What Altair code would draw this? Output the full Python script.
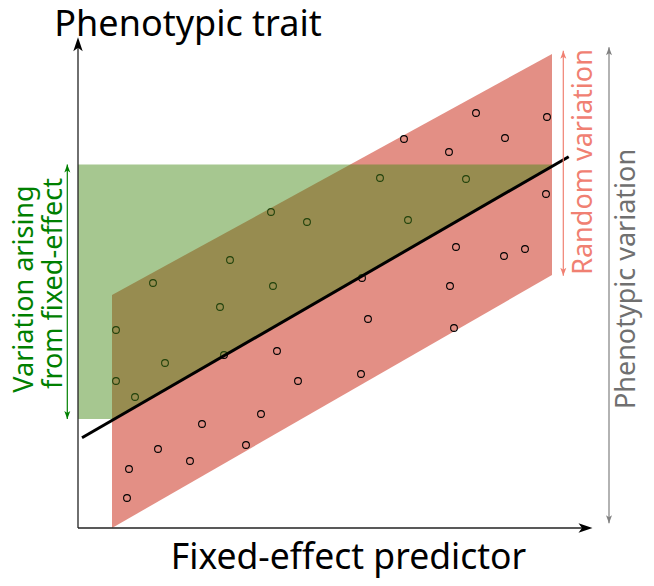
import altair as alt
import pandas as pd

# ---- data (units: x to the right of the y axis, y above the x axis) ----
point_x = [398, 469, 326, 427, 371, 302, 388, 468, 193, 229, 330, 378, 426, 447,
           152, 75, 195, 284, 372, 142, 38, 290, 376, 199, 146, 87, 38, 57,
           220, 283, 183, 124, 80, 112, 168, 51, 49]
point_y = [415, 411, 389, 390, 376, 350, 349, 334, 316, 306, 308, 281, 272, 279,
           268, 245, 242, 250, 242, 221, 198, 209, 200, 177, 173, 165, 147, 131,
           147, 154, 114, 104, 79, 67, 83, 59, 30]

band_x = [34, 474]
band_lower = [0, 253]
band_upper = [233, 474]

green_x = [0, 36.4, 474]
green_bottom = [109, 109, 361.7]
green_top = [363.5, 363.5, 363.5]

fit_x = [4, 490.7]
fit_y = [90.3, 371.3]

# axes (line part) and their arrow tips
axis_x1 = [0, 0]
axis_y1 = [0, 0]
axis_x2 = [0, 505]
axis_y2 = [481, 0]
axis_tip_x = [0, 514.5]
axis_tip_y = [490.7, 0]
axis_tip_angle = [0, 90]

# double-headed annotation arrows
arrow_names = ["fixed", "random", "phenotypic"]
arrow_x = [-10.7, 485.3, 531]
arrow_lo = [109, 252.3, 4.7]
arrow_hi = [363.5, 477.3, 480.7]
arrow_colors = ["#008000", "#f08072", "#808080"]

# labels
title_y_text = ["Phenotypic trait"]
title_x_text = ["Fixed-effect predictor"]
fixed_lines = ["Variation arising", "from fixed-effect"]
random_text = ["Random variation"]
pheno_text = ["Phenotypic variation"]

FONT = "Noto Sans"
xs = alt.Scale(domain=[0, 514], nice=False, zero=False)
ys = alt.Scale(domain=[0, 490], nice=False, zero=False)


def X(f):
    return alt.X(f, scale=xs, axis=None)


def Y(f):
    return alt.Y(f, scale=ys, axis=None)


red = alt.Chart(pd.DataFrame({"x": band_x, "lo": band_lower, "hi": band_upper})).mark_area(
    color="#e38f85", opacity=1).encode(x=X("x:Q"), y=Y("lo:Q"), y2="hi:Q")

pts = alt.Chart(pd.DataFrame({"x": point_x, "y": point_y})).mark_point(
    shape="circle", filled=False, color="black", size=46, strokeWidth=1.1, opacity=1
).encode(x=X("x:Q"), y=Y("y:Q"))

green = alt.Chart(pd.DataFrame({"x": green_x, "lo": green_bottom, "hi": green_top})).mark_area(
    color="#468a16", opacity=0.48).encode(x=X("x:Q"), y=Y("hi:Q"), y2="lo:Q")

fit = alt.Chart(pd.DataFrame({"x": fit_x, "y": fit_y})).mark_line(
    color="black", strokeWidth=3).encode(x=X("x:Q"), y=Y("y:Q"))

axes = alt.Chart(pd.DataFrame({"x": axis_x1, "y": axis_y1, "x2": axis_x2, "y2": axis_y2})).mark_rule(
    color="#222222", strokeWidth=1.3).encode(x=X("x:Q"), y=Y("y:Q"), x2="x2:Q", y2="y2:Q")

axis_tips = alt.Chart(pd.DataFrame({"x": axis_tip_x, "y": axis_tip_y, "a": axis_tip_angle})).mark_point(
    shape="M0,0 L4.7,14 L0,10.5 L-4.7,14 Z", filled=True, size=4, color="black", opacity=1
).encode(x=X("x:Q"), y=Y("y:Q"), angle=alt.Angle("a:Q", scale=None))

arr_df = pd.DataFrame({"name": arrow_names, "x": arrow_x, "lo": arrow_lo, "hi": arrow_hi,
                       "c": arrow_colors})
arr_lines = alt.Chart(arr_df).mark_rule(strokeWidth=1.2).encode(
    x=X("x:Q"), y=Y("lo:Q"), y2="hi:Q", color=alt.Color("c:N", scale=None))

tips_df = pd.DataFrame({
    "x": arrow_x + arrow_x,
    "y": arrow_hi + arrow_lo,
    "a": [0] * len(arrow_x) + [180] * len(arrow_x),
    "c": arrow_colors + arrow_colors,
})
arr_tips = alt.Chart(tips_df).mark_point(
    shape="M0,0 L3,8 L0,6 L-3,8 Z", filled=True, size=4, opacity=1
).encode(x=X("x:Q"), y=Y("y:Q"), angle=alt.Angle("a:Q", scale=None),
         color=alt.Color("c:N", scale=None))

t_ytitle = alt.Chart(pd.DataFrame({"t": title_y_text, "x": [110], "y": [492]})).mark_text(
    font=FONT, fontSize=36, align="center", baseline="alphabetic", color="black"
).encode(x=X("x:Q"), y=Y("y:Q"), text="t:N")

t_xtitle = alt.Chart(pd.DataFrame({"t": title_x_text, "x": [270.5], "y": [-41]})).mark_text(
    font=FONT, fontSize=35.5, align="center", baseline="alphabetic", color="black"
).encode(x=X("x:Q"), y=Y("y:Q"), text="t:N")

t_fixed = alt.Chart(pd.DataFrame({"t": fixed_lines, "x": [-45, -16.5], "y": [239, 244.5]})).mark_text(
    font=FONT, fontSize=27, align="center", baseline="alphabetic", angle=270, color="#008000"
).encode(x=X("x:Q"), y=Y("y:Q"), text="t:N")

t_random = alt.Chart(pd.DataFrame({"t": random_text, "x": [513.7], "y": [366]})).mark_text(
    font=FONT, fontSize=27, align="center", baseline="alphabetic", angle=270, color="#f08072"
).encode(x=X("x:Q"), y=Y("y:Q"), text="t:N")

t_pheno = alt.Chart(pd.DataFrame({"t": pheno_text, "x": [557], "y": [249]})).mark_text(
    font=FONT, fontSize=27, align="center", baseline="alphabetic", angle=270, color="#707070"
).encode(x=X("x:Q"), y=Y("y:Q"), text="t:N")

chart = alt.layer(
    red, pts, green, fit, axes, axis_tips, arr_lines, arr_tips,
    t_ytitle, t_xtitle, t_fixed, t_random, t_pheno
).properties(
    width=514, height=490,
    autosize=alt.AutoSizeParams(type="none"),
    padding={"left": 70, "top": 30, "right": 52, "bottom": 50},
).configure_view(stroke=None)

chart.save("out.html", embed_options={"renderer": "svg", "actions": False})
